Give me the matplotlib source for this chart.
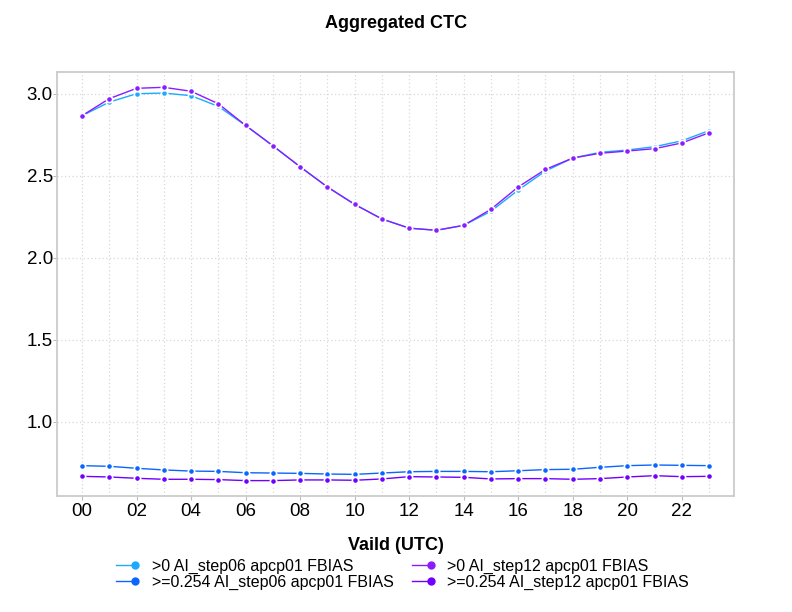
import matplotlib
matplotlib.use("Agg")
import matplotlib.pyplot as plt
import numpy as np

hours = list(range(24))
xtick_labels = ["00", "02", "04", "06", "08", "10", "12", "14", "16", "18", "20", "22"]

s06_gt0 = [2.866, 2.949, 3.000, 3.004, 2.988, 2.923, 2.807, 2.683, 2.555, 2.432, 2.326, 2.237,
           2.181, 2.168, 2.198, 2.284, 2.413, 2.529, 2.608, 2.643, 2.657, 2.677, 2.713, 2.775]
s06_ge254 = [0.734, 0.730, 0.718, 0.708, 0.701, 0.699, 0.691, 0.689, 0.687, 0.683, 0.681, 0.689,
             0.697, 0.699, 0.699, 0.697, 0.703, 0.710, 0.712, 0.724, 0.734, 0.738, 0.736, 0.734]
s12_gt0 = [2.866, 2.970, 3.033, 3.039, 3.015, 2.939, 2.807, 2.683, 2.555, 2.432, 2.326, 2.237,
           2.181, 2.168, 2.198, 2.296, 2.432, 2.539, 2.608, 2.637, 2.651, 2.665, 2.700, 2.762]
s12_ge254 = [0.669, 0.665, 0.657, 0.651, 0.651, 0.649, 0.643, 0.643, 0.647, 0.647, 0.645, 0.653,
             0.667, 0.665, 0.663, 0.653, 0.655, 0.655, 0.651, 0.655, 0.665, 0.673, 0.667, 0.669]

series = [
    (">0 AI_step06 apcp01 FBIAS", s06_gt0, "#1aaaff"),
    (">=0.254 AI_step06 apcp01 FBIAS", s06_ge254, "#0a66ff"),
    (">0 AI_step12 apcp01 FBIAS", s12_gt0, "#8a1cff"),
    (">=0.254 AI_step12 apcp01 FBIAS", s12_ge254, "#7000ff"),
]

plt.rcParams['font.family'] = ['Liberation Sans', 'DejaVu Sans']

fig = plt.figure(figsize=(7.92, 6.12), dpi=100)
ax = fig.add_axes([0.072, 0.1895, 0.8548, 0.6933])

handles = []
for label, vals, col in series:
    ln, = ax.plot(hours, vals, color=col, lw=1.0, marker='o', markersize=4.5,
                  markerfacecolor=col, markeredgecolor='white', markeredgewidth=1.2,
                  label=label)
    handles.append(ln)

ax.set_xlim(-0.917, 23.917)
ax.set_ylim(0.549, 3.134)
ax.set_xticks(list(range(0, 24, 2)))
ax.set_xticklabels(xtick_labels)
ax.set_xticks(hours, minor=True)
ax.set_yticks([1.0, 1.5, 2.0, 2.5, 3.0])
ax.set_yticklabels(["1.0", "1.5", "2.0", "2.5", "3.0"])

ax.grid(True, which='both', axis='x', color='#d8d8d8', linestyle=(0, (1, 2)), lw=0.9)
ax.grid(True, which='major', axis='y', color='#d8d8d8', linestyle=(0, (1, 2)), lw=0.9)
ax.set_axisbelow(True)

for sp in ax.spines.values():
    sp.set_color('#cccccc')
    sp.set_linewidth(1.3)

ax.tick_params(axis='both', which='major', length=3, color='#bbbbbb', labelsize=13.5)
ax.tick_params(axis='y', which='major', pad=0)
ax.tick_params(axis='x', which='major', pad=2)
ax.tick_params(axis='x', which='minor', length=0)

ax.set_xlabel("Vaild (UTC)", fontsize=13, fontweight='bold', labelpad=12)
fig.suptitle("Aggregated CTC", fontsize=13, fontweight='bold', y=0.975)

leg = ax.legend(handles=handles, loc='upper center', bbox_to_anchor=(0.507, -0.133), ncol=2,
                frameon=False, fontsize=11.5, handlelength=1.8, handletextpad=0.75,
                columnspacing=0.8, labelspacing=0.05, borderaxespad=0, numpoints=2)
for lh in leg.get_lines():
    lh.set_markevery([1])
    lh.set_markersize(6)
    lh.set_markeredgewidth(0)

fig.savefig("out.png", dpi=100)
